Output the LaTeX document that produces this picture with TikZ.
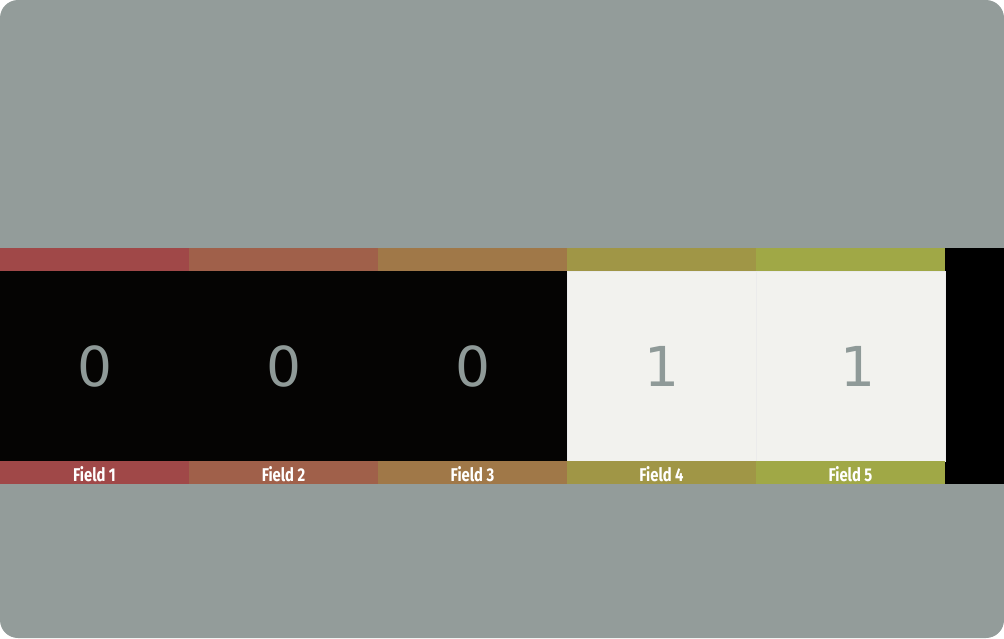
\documentclass[tikz,border=0pt]{standalone}
\usepackage{fontspec}
\setmainfont{DejaVu Sans}
\newfontfamily\fieldfont[FakeStretch=0.8]{Fira Sans}
\definecolor{bggray}{RGB}{147,156,154}
\definecolor{digitgray}{RGB}{143,154,152}
\definecolor{cellon}{RGB}{242,242,238}
\definecolor{celloff}{RGB}{5,4,3}
\definecolor{fieldA}{RGB}{160,72,72}
\definecolor{fieldB}{RGB}{160,96,74}
\definecolor{fieldC}{RGB}{160,120,72}
\definecolor{fieldD}{RGB}{160,150,70}
\definecolor{fieldE}{RGB}{160,168,70}
\usetikzlibrary{positioning}

\begin{document}
\begin{tikzpicture}[x=1pt,y=-1pt,
  stripe/.style={minimum width=189pt,minimum height=23pt,inner sep=0pt,outer sep=0pt,
    text height=18pt,text depth=0pt,
    font=\fieldfont\bfseries\fontsize{18.5}{18}\selectfont,text=white},
  bitcell/.style={minimum width=189pt,minimum height=190pt,inner sep=0pt,outer sep=0pt,
    font=\fontsize{55}{55}\selectfont,text=digitgray}
]
  \fill[bggray,rounded corners=18pt] (0,0) rectangle (1004,638);
  % Right end of band
  \fill[black] (945,248) rectangle (1004,484);
  % Top stripes
  \node[stripe,fill=fieldA] (top1) at (94.5,259.5) {};
  \node[stripe,fill=fieldB] (top2) at (283.5,259.5) {};
  \node[stripe,fill=fieldC] (top3) at (472.5,259.5) {};
  \node[stripe,fill=fieldD] (top4) at (661.5,259.5) {};
  \node[stripe,fill=fieldE] (top5) at (850.5,259.5) {};
  % Bit cells
  \node[bitcell,fill=celloff] (cell1) at (94.5,366) {0};
  \node[bitcell,fill=celloff] (cell2) at (283.5,366) {0};
  \node[bitcell,fill=celloff] (cell3) at (472.5,366) {0};
  \node[bitcell,fill=cellon,draw=black!8,line width=0.6pt] (cell4) at (661.5,366) {1};
  \node[bitcell,fill=cellon,draw=black!8,line width=0.6pt] (cell5) at (850.5,366) {\hspace*{14pt}1};
  % Bottom stripes with labels
  \node[stripe,fill=fieldA] (lbl1) at (94.5,472.5) {Field 1};
  \node[stripe,fill=fieldB] (lbl2) at (283.5,472.5) {Field 2};
  \node[stripe,fill=fieldC] (lbl3) at (472.5,472.5) {Field 3};
  \node[stripe,fill=fieldD] (lbl4) at (661.5,472.5) {Field 4};
  \node[stripe,fill=fieldE] (lbl5) at (850.5,472.5) {Field 5};
\end{tikzpicture}
\end{document}
